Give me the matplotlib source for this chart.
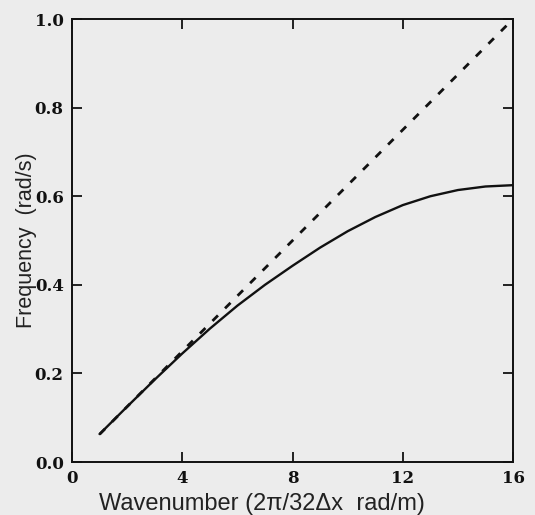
import matplotlib
matplotlib.use("Agg")
import matplotlib.pyplot as plt

# data
wavenumber = [1, 2, 3, 4, 5, 6, 7, 8, 9, 10, 11, 12, 13, 14, 15, 16]
frequency_numeric = [0.063, 0.125, 0.186, 0.245, 0.301, 0.353, 0.400, 0.443,
                     0.484, 0.521, 0.553, 0.580, 0.600, 0.614, 0.622, 0.625]
exact_k = [1, 16]
exact_freq = [0.0625, 1.0]
xticks = [0, 4, 8, 12, 16]
yticks = [0.0, 0.2, 0.4, 0.6, 0.8, 1.0]

fig = plt.figure(figsize=(5.35, 5.15), dpi=100)
bg = "#ececec"
fig.patch.set_facecolor(bg)
ax = fig.add_axes([0.1346, 0.1029, 0.8244, 0.8601])
ax.set_facecolor(bg)

ax.plot(wavenumber, frequency_numeric, color="#111111", lw=1.7, solid_capstyle="round")
ax.plot(exact_k, exact_freq, color="#111111", lw=2.0, linestyle=(0, (2.8, 3.6)))

ax.set_xlim(0, 16)
ax.set_ylim(0, 1.0)
ax.set_xticks(xticks)
ax.set_yticks(yticks)
ax.set_xticklabels([str(t) for t in xticks])
ax.set_yticklabels([f"{t:.1f}" for t in yticks])
ax.tick_params(direction="in", length=7, width=1.3, top=True, right=True,
               labelsize=12, colors="#111111", pad=6)
for lab in ax.get_xticklabels() + ax.get_yticklabels():
    lab.set_fontweight("bold")
    lab.set_family("DejaVu Serif")
for s in ax.spines.values():
    s.set_linewidth(1.4)
    s.set_color("#111111")

ax.set_xlabel("Wavenumber (2π/32Δx  rad/m)", fontsize=17, family="Liberation Sans",
              color="#222222")
ax.xaxis.set_label_coords(0.431, -0.071)
ax.set_ylabel("Frequency  (rad/s)", fontsize=15.5, family="Liberation Sans",
              color="#222222", labelpad=-2)

fig.savefig("out.png", dpi=100, facecolor=bg)
